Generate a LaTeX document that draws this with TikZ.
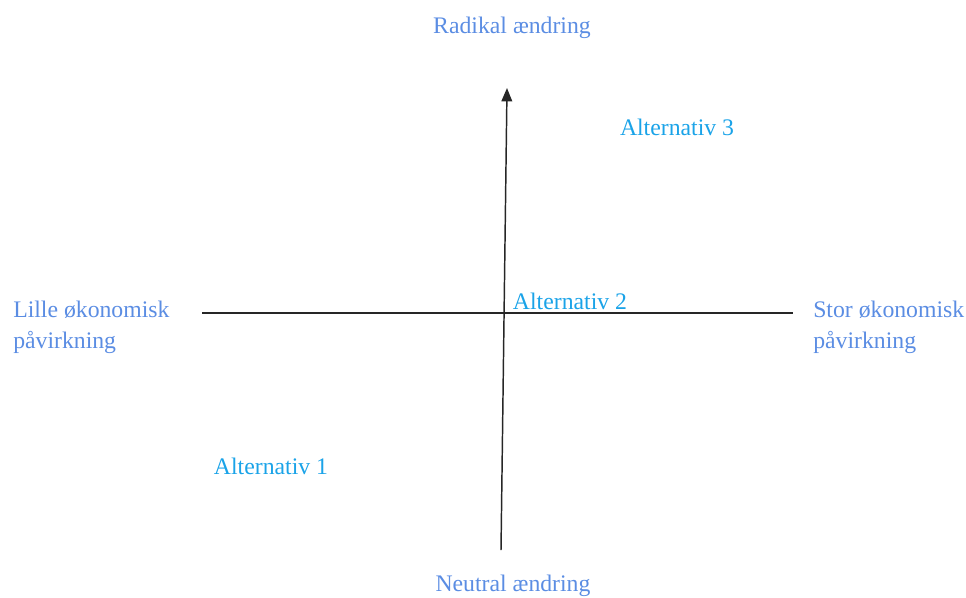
\documentclass[tikz,border=0pt]{standalone}
\usepackage{fontspec}
\setmainfont{Liberation Serif}
\usetikzlibrary{arrows.meta}
\definecolor{axisblue}{HTML}{5B8DE3}
\definecolor{altblue}{HTML}{1AA3E8}
\begin{document}
\begin{tikzpicture}[x=0.75pt,y=-0.75pt,
    axislabel/.style={text=axisblue,font=\fontsize{17.8}{23.25}\selectfont,inner sep=0pt},
    altlabel/.style={text=altblue,font=\fontsize{17.8}{23.25}\selectfont,inner sep=0pt}]
    \useasboundingbox (0,0) rectangle (966,597);
    \coordinate (west) at (202,313);
    \coordinate (east) at (793,313);
    \coordinate (bottom) at (501,550);
    \coordinate (top) at (507,88);
    \draw[line width=1.1pt,black!85] (west) -- (east);
    \draw[line width=1.1pt,black!85,-{Triangle[width=8pt,length=10pt]}] (bottom) -- (top);
    \node[axislabel] (radikal) at (512,28) {Radikal ændring};
    \node[axislabel] (neutral) at (513,586) {Neutral ændring};
    \node[axislabel,anchor=west,align=left] (lille) at (13,327) {Lille økonomisk\\påvirkning};
    \node[axislabel,anchor=west,align=left] (stor) at (813,327) {Stor økonomisk\\påvirkning};
    \node[altlabel] (alt1) at (271,466) {Alternativ 1};
    \node[altlabel] (alt2) at (570,301) {Alternativ 2};
    \node[altlabel] (alt3) at (677,127) {Alternativ 3};
\end{tikzpicture}
\end{document}
